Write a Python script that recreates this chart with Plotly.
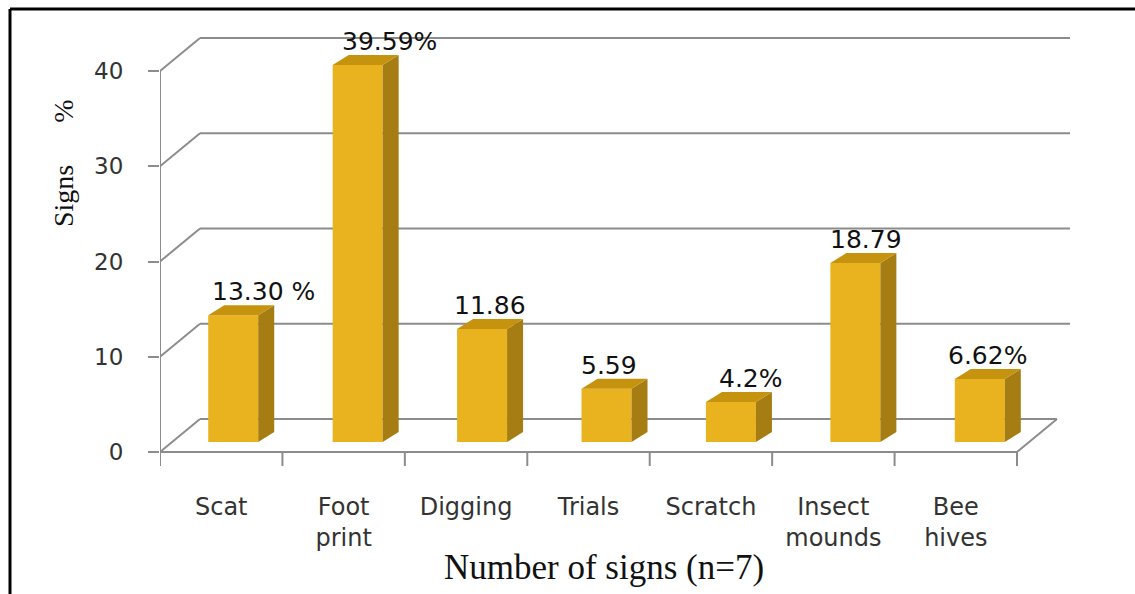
import plotly.graph_objects as go

# ---------------- data ----------------
categories = ["Scat", "Foot<br>print", "Digging", "Trials", "Scratch", "Insect<br>mounds", "Bee<br>hives"]
values = [13.30, 39.59, 11.86, 5.59, 4.2, 18.79, 6.62]
value_labels = ["13.30 %", "39.59%", "11.86", "5.59", "4.2%", "18.79", "6.62%"]
y_ticks = [0, 10, 20, 30, 40]
x_title = "Number of signs (n=7)"
y_title = "Signs\u00a0\u00a0\u00a0\u00a0\u00a0\u00a0%"

# ---------------- style / geometry ----------------
W, H = 1135, 594
ML, MR, MT, MB = 160, 45, 20, 128
CAT_PX = 122.43          # pixels per category
UNIT_PX = 9.525          # pixels per value unit
PLOT_W = W - ML - MR
PLOT_H = H - MT - MB
X_RANGE = [0, PLOT_W / CAT_PX]
Y_RANGE = [-(PLOT_H - 432) / UNIT_PX, 432 / UNIT_PX]

WX = 40 / CAT_PX         # depth offset of back wall (x)
WY = 33 / UNIT_PX        # depth offset of back wall (y)
GRID_RIGHT = (1070 - ML) / CAT_PX
BAR_W = 50 / CAT_PX
BAR_DX = 16 / CAT_PX
BAR_DY = 10 / UNIT_PX
BAR_LIFT = 10 / UNIT_PX
BAR_SHIFT0 = 12 / CAT_PX
BAR_SHIFT_STEP = 2 / CAT_PX
LABEL_XSHIFT = [22, 24, 0, -6, 12, 3, 0]

FRONT = "#E8B31E"
SIDE = "#A67D12"
TOP = "#C6930F"
GRID = "#8C8C8C"
TXT = "#333333"

n = len(values)
centers = [i + 0.5 + BAR_SHIFT0 + BAR_SHIFT_STEP * i for i in range(n)]

fig = go.Figure()

# front faces
fig.add_trace(go.Bar(
    x=centers, y=values, base=[BAR_LIFT] * n, width=BAR_W,
    marker=dict(color=FRONT, line=dict(width=0)),
    showlegend=False, hoverinfo="skip"))

# side and top faces
sx, sy, tx, ty = [], [], [], []
for c, v in zip(centers, values):
    xl, xr = c - BAR_W / 2, c + BAR_W / 2
    b, t = BAR_LIFT, BAR_LIFT + v
    sx += [xr, xr + BAR_DX, xr + BAR_DX, xr, xr, None]
    sy += [b, b + BAR_DY, t + BAR_DY, t, b, None]
    tx += [xl, xr, xr + BAR_DX, xl + BAR_DX, xl, None]
    ty += [t, t, t + BAR_DY, t + BAR_DY, t, None]
fig.add_trace(go.Scatter(x=sx, y=sy, mode="lines", fill="toself", fillcolor=SIDE,
                         line=dict(width=0, color=SIDE), showlegend=False, hoverinfo="skip"))
fig.add_trace(go.Scatter(x=tx, y=ty, mode="lines", fill="toself", fillcolor=TOP,
                         line=dict(width=0, color=TOP), showlegend=False, hoverinfo="skip"))

# walls, gridlines and axis frame (drawn below traces)
shapes = []
def seg(x0, y0, x1, y1, color=GRID, width=2):
    shapes.append(dict(type="line", xref="x", yref="y", x0=x0, y0=y0, x1=x1, y1=y1,
                       line=dict(color=color, width=width), layer="below"))

for v in y_ticks:
    seg(0, v, WX, v + WY)                       # left wall slants
    if v > 0:
        seg(WX, v + WY, GRID_RIGHT, v + WY)     # back wall gridlines
seg(WX, WY, n + WX, WY)                          # floor back edge
seg(0, 0, 0, max(y_ticks))                       # vertical axis line
seg(0, 0, n, 0)                                  # floor front edge
seg(n, 0, n + WX, WY)                            # floor right edge
for k in range(n + 1):
    seg(k, 0, k, Y_RANGE[0])                     # category boundary ticks

# black frame of the original picture
shapes.append(dict(type="line", xref="paper", yref="paper",
                   x0=(10 - ML) / PLOT_W, x1=(10 - ML) / PLOT_W,
                   y0=(H - MB - 9) / PLOT_H, y1=-0.4,
                   line=dict(color="black", width=3)))
shapes.append(dict(type="line", xref="paper", yref="paper",
                   x0=(10 - ML) / PLOT_W, x1=1.1,
                   y0=(H - MB - 9) / PLOT_H, y1=(H - MB - 9) / PLOT_H,
                   line=dict(color="black", width=3)))

annotations = []
for c, v, lab, dxs in zip(centers, values, value_labels, LABEL_XSHIFT):
    annotations.append(dict(
        x=c + BAR_DX / 2, y=BAR_LIFT + v + BAR_DY, xref="x", yref="y",
        text=lab, showarrow=False, xanchor="center", yanchor="bottom",
        xshift=dxs, yshift=-3,
        font=dict(family="DejaVu Sans", size=25, color="#111111")))

annotations.append(dict(
    text=x_title, xref="paper", yref="paper",
    x=(604 - ML) / PLOT_W, y=(H - MB - 567) / PLOT_H,
    xanchor="center", yanchor="middle", showarrow=False,
    font=dict(family="Liberation Serif", size=35, color="#111111")))
annotations.append(dict(
    text=y_title, xref="paper", yref="paper", textangle=-90,
    x=(63 - ML) / PLOT_W, y=(H - MB - 163) / PLOT_H,
    xanchor="center", yanchor="middle", showarrow=False,
    font=dict(family="Liberation Serif", size=28, color="#111111")))

fig.update_layout(
    width=W, height=H,
    margin=dict(l=ML, r=MR, t=MT, b=MB),
    paper_bgcolor="white", plot_bgcolor="white",
    shapes=shapes, annotations=annotations,
    showlegend=False,
    xaxis=dict(range=X_RANGE, showgrid=False, zeroline=False, showline=False,
               tickvals=[i + 0.5 for i in range(n)], ticktext=categories,
               ticks="", ticklabelstandoff=24,
               tickfont=dict(family="DejaVu Sans", size=24, color=TXT),
               fixedrange=True),
    yaxis=dict(range=Y_RANGE, showgrid=False, zeroline=False, showline=False,
               tickvals=y_ticks, ticks="outside", ticklen=11, tickwidth=2,
               tickcolor=GRID, ticklabelstandoff=20,
               tickfont=dict(family="DejaVu Sans", size=23, color=TXT),
               fixedrange=True),
)

fig.write_html("out.html")
